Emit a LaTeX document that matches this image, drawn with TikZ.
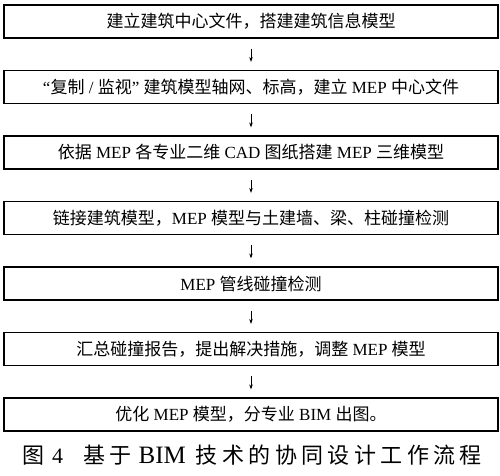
\documentclass[tikz,border=0pt]{standalone}
\usepackage{fontspec}
\setmainfont{Liberation Serif}
\newfontfamily\cjk{Noto Sans CJK SC}
\newfontfamily\capcjk[LetterSpace=20]{Noto Sans CJK SC}
\usetikzlibrary{arrows.meta}
\tikzset{
	stepbox/.style={draw, line width=1.2pt, minimum width=494pt, minimum height=33pt, inner sep=0pt, font=\fontsize{17}{20}\selectfont},
	flowarrow/.style={-{Stealth[length=5pt,width=3.5pt]}, line width=.6pt, shorten <=10pt, shorten >=8pt},
	captext/.style={font=\fontsize{22}{26}\selectfont, inner sep=0pt, anchor=west}
}

\begin{document}
\begin{tikzpicture}[x=1pt,y=1pt]
			\useasboundingbox (0,0) rectangle (500,475);
			\foreach \n/\t in {
				1/{{\cjk 建立建筑中心文件，搭建建筑信息模型}},
				2/{“{\cjk 复制} / {\cjk 监视}” {\cjk 建筑模型轴网、标高，建立} MEP {\cjk 中心文件}},
				3/{{\cjk 依据} MEP {\cjk 各专业二维} CAD {\cjk 图纸搭建} MEP {\cjk 三维模型}},
				4/{{\cjk 链接建筑模型，}MEP {\cjk 模型与土建墙、梁、柱碰撞检测}},
				5/{MEP {\cjk 管线碰撞检测}},
				6/{{\cjk 汇总碰撞报告，提出解决措施，调整} MEP {\cjk 模型}},
				7/{{\cjk 优化} MEP {\cjk 模型，分专业} BIM {\cjk 出图。}}}
				\node[stepbox] (s\n) at (251,{453.5-65.5*(\n-1)}) {\t};
			\foreach \a/\b in {1/2,2/3,3/4,4/5,5/6,6/7} \draw[flowarrow] (s\a) -- (s\b);
			% caption, spaced by hand
			\node[captext] (cap) at (22,20) {{\capcjk 图}\hspace{8pt}4\hspace{20pt}{\capcjk 基于}\hspace{7pt}{\fontsize{25}{28}\selectfont BIM}\hspace{10pt}{\capcjk 技术的协同设计工作流程}};
		\end{tikzpicture}
\end{document}
